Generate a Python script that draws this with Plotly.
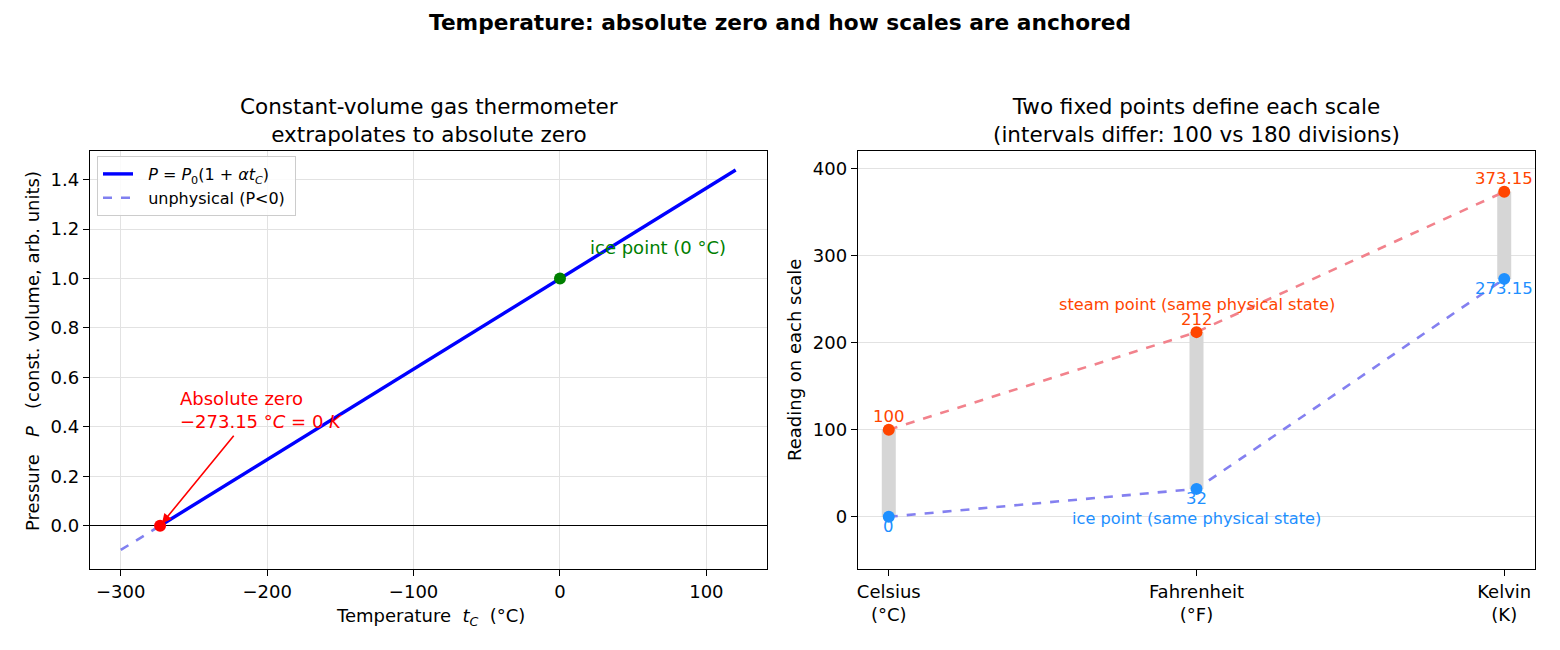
import plotly.graph_objects as go

# ---------------- data ----------------
# left panel: gas thermometer
t_phys = [-273.15, 120]
p_phys = [0.0, 1.439]
t_unphys = [-300, -273.15]
p_unphys = [-0.098, 0.0]
abs_zero_t = [-273.15]
abs_zero_p = [0.0]
ice_t = [0]
ice_p = [1.0]
left_xticks = [-300, -200, -100, 0, 100]
left_yticks = [0.0, 0.2, 0.4, 0.6, 0.8, 1.0, 1.2, 1.4]

# right panel: fixed points
scale_pos = [0, 1, 2]
scale_labels = ["Celsius<br>(°C)", "Fahrenheit<br>(°F)", "Kelvin<br>(K)"]
ice_vals = [0, 32, 273.15]
steam_vals = [100, 212, 373.15]
ice_text = ["0", "32", "273.15"]
steam_text = ["100", "212", "373.15"]
right_yticks = [0, 100, 200, 300, 400]

W, H = 1560, 650
FONT = "DejaVu Sans"
NB = "\u00a0"


def px_x(p):
    return p / W


def px_y(p):
    return 1 - p / H


fig = go.Figure()

# ---------- left panel traces ----------
fig.add_trace(go.Scatter(
    x=t_phys, y=p_phys, mode="lines",
    line=dict(color="#0000ff", width=3.4),
    name=NB * 2 + "<i>P</i> = <i>P</i><sub>0</sub>(1 + <i>αt</i><sub><i>C</i></sub>)" + NB,
    xaxis="x", yaxis="y", showlegend=True))
fig.add_trace(go.Scatter(
    x=t_unphys, y=p_unphys, mode="lines",
    line=dict(color="#8080f0", width=2.6, dash="dash"),
    name=NB * 2 + "unphysical (P<0)" + NB, xaxis="x", yaxis="y", showlegend=True))
fig.add_trace(go.Scatter(
    x=abs_zero_t, y=abs_zero_p, mode="markers",
    marker=dict(color="#ff0000", size=12), xaxis="x", yaxis="y", showlegend=False))
fig.add_trace(go.Scatter(
    x=ice_t, y=ice_p, mode="markers",
    marker=dict(color="#008000", size=12), xaxis="x", yaxis="y", showlegend=False))

# ---------- right panel traces ----------
bx, by = [], []
for i in range(len(scale_pos)):
    bx += [scale_pos[i], scale_pos[i], None]
    by += [ice_vals[i], steam_vals[i], None]
fig.add_trace(go.Scatter(
    x=bx, y=by, mode="lines", line=dict(color="#d6d6d6", width=14),
    xaxis="x2", yaxis="y2", showlegend=False, hoverinfo="skip"))
fig.add_trace(go.Scatter(
    x=scale_pos, y=steam_vals, mode="lines",
    line=dict(color="#f2828c", width=2.6, dash="dash"),
    xaxis="x2", yaxis="y2", showlegend=False))
fig.add_trace(go.Scatter(
    x=scale_pos, y=ice_vals, mode="lines",
    line=dict(color="#8480f0", width=2.6, dash="dash"),
    xaxis="x2", yaxis="y2", showlegend=False))
fig.add_trace(go.Scatter(
    x=scale_pos, y=steam_vals, mode="markers",
    marker=dict(color="#ff4500", size=12),
    xaxis="x2", yaxis="y2", showlegend=False))
fig.add_trace(go.Scatter(
    x=scale_pos, y=ice_vals, mode="markers",
    marker=dict(color="#1e90ff", size=12),
    xaxis="x2", yaxis="y2", showlegend=False))

ann = []
# value labels
for i in range(len(scale_pos)):
    ann.append(dict(x=scale_pos[i], y=steam_vals[i], xref="x2", yref="y2",
                    text=steam_text[i], showarrow=False, yshift=13,
                    font=dict(family=FONT, size=16.5, color="#ff4500")))
    ann.append(dict(x=scale_pos[i], y=ice_vals[i], xref="x2", yref="y2",
                    text=ice_text[i], showarrow=False, yshift=-10,
                    font=dict(family=FONT, size=16.5, color="#1e90ff")))

ann.append(dict(x=1, y=244, xref="x2", yref="y2",
                text="steam point (same physical state)", showarrow=False,
                font=dict(family=FONT, size=16.2, color="#ff4500")))
ann.append(dict(x=1, y=-2.5, xref="x2", yref="y2",
                text="ice point (same physical state)", showarrow=False,
                font=dict(family=FONT, size=16.2, color="#1e90ff")))

# left annotations
ann.append(dict(x=-273.15, y=0, xref="x", yref="y", ax=-222, ay=0.37,
                axref="x", ayref="y", text="", showarrow=True,
                arrowhead=2, arrowsize=1.2, arrowwidth=1.6, arrowcolor="#ff0000",
                standoff=3))
ann.append(dict(x=-261, y=0.372, xref="x", yref="y",
                text="Absolute zero<br>−273.15 °<i>C</i> = 0 <i>K</i>",
                showarrow=False, xanchor="left", yanchor="bottom", align="left",
                font=dict(family=FONT, size=18, color="#ff0000")))
ann.append(dict(x=19, y=1.075, xref="x", yref="y",
                text="ice point (0 °C)", showarrow=False,
                xanchor="left", yanchor="bottom",
                font=dict(family=FONT, size=18, color="#008000")))

# subplot titles
ann.append(dict(x=px_x(428.5), y=px_y(121), xref="paper", yref="paper",
                text="Constant-volume gas thermometer<br>extrapolates to absolute zero",
                showarrow=False, xanchor="center", yanchor="middle",
                font=dict(family=FONT, size=21.5, color="black")))
ann.append(dict(x=px_x(1196.5), y=px_y(121), xref="paper", yref="paper",
                text="Two fixed points define each scale<br>(intervals differ: 100 vs 180 divisions)",
                showarrow=False, xanchor="center", yanchor="middle",
                font=dict(family=FONT, size=21.5, color="black")))

# axis titles
ann.append(dict(x=px_x(430), y=px_y(617), xref="paper", yref="paper",
                text="Temperature" + NB * 2 + "<i>t</i><sub><i>C</i></sub>" + NB * 2 + "(°C)",
                showarrow=False, xanchor="center", yanchor="middle",
                font=dict(family=FONT, size=18, color="black")))
ann.append(dict(x=px_x(32), y=px_y(351), xref="paper", yref="paper",
                text="Pressure" + NB * 3 + "<i>P</i>" + NB * 3 + "(const. volume, arb. units)",
                showarrow=False, textangle=-90, xanchor="center", yanchor="middle",
                font=dict(family=FONT, size=18, color="black")))
ann.append(dict(x=px_x(794), y=px_y(360), xref="paper", yref="paper",
                text="Reading on each scale",
                showarrow=False, textangle=-90, xanchor="center", yanchor="middle",
                font=dict(family=FONT, size=18, color="black")))

axis_common = dict(showline=True, mirror=True, linecolor="black", linewidth=1.4,
                   ticks="outside", ticklen=6, tickwidth=1.4, tickcolor="black",
                   tickfont=dict(family=FONT, size=18, color="black"),
                   automargin=False)

y0, y1 = px_y(569), px_y(151)

fig.update_layout(
    width=W, height=H,
    margin=dict(l=0, r=0, t=0, b=0),
    paper_bgcolor="white", plot_bgcolor="white",
    font=dict(family=FONT, size=18, color="black"),
    title=dict(text="<b>Temperature: absolute zero and how scales are anchored</b>",
               x=0.5, xanchor="center", y=px_y(22), yanchor="middle",
               font=dict(family=FONT, size=21.7, color="black")),
    xaxis=dict(domain=[px_x(90), px_x(767)], range=[-321, 141.4],
               tickvals=left_xticks, showgrid=True, gridcolor="#e2e2e2",
               gridwidth=1, anchor="y", zeroline=False, **axis_common),
    yaxis=dict(domain=[y0, y1], range=[-0.175, 1.516],
               tickvals=left_yticks, tickformat=".1f", showgrid=True,
               gridcolor="#e2e2e2", gridwidth=1, anchor="x",
               zeroline=True, zerolinecolor="black", zerolinewidth=1.4,
               **axis_common),
    xaxis2=dict(domain=[px_x(858), px_x(1535)], range=[-0.1, 2.1],
                tickvals=scale_pos, ticktext=scale_labels, showgrid=False,
                anchor="y2", zeroline=False, **axis_common),
    yaxis2=dict(domain=[y0, y1], range=[-60, 420], tickvals=right_yticks,
                showgrid=True, gridcolor="#e2e2e2", gridwidth=1, anchor="x2",
                zeroline=False, **axis_common),
    legend=dict(x=px_x(97), y=px_y(156), xanchor="left", yanchor="top",
                bgcolor="rgba(255,255,255,0.85)", bordercolor="#cccccc",
                borderwidth=1, font=dict(family=FONT, size=16, color="black"),
                itemwidth=30, tracegroupgap=0),
    annotations=ann,
    showlegend=True,
)

fig.write_html("out.html")
